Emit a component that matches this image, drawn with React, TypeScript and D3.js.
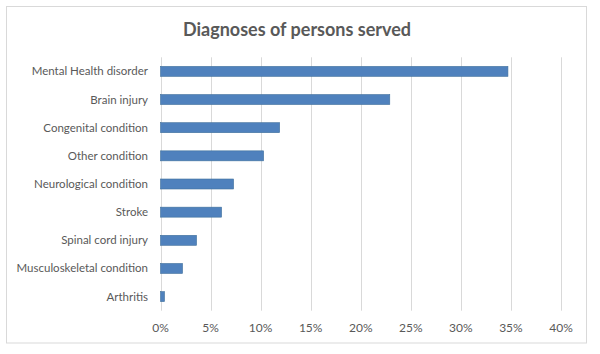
import React from "react";
import * as d3 from "d3";

const categories = [
  "Mental Health disorder",
  "Brain injury",
  "Congenital condition",
  "Other condition",
  "Neurological condition",
  "Stroke",
  "Spinal cord injury",
  "Musculoskeletal condition",
  "Arthritis",
];
const shares = [34.7, 22.9, 11.9, 10.3, 7.3, 6.1, 3.6, 2.2, 0.4];
const ticks = [0, 5, 10, 15, 20, 25, 30, 35, 40];

const W = 600;
const H = 354;
const left = 160.5;
const right = 561;
const top = 57.3;
const bottom = 310.7;
const font = "Lato, 'Open Sans', sans-serif";
const textColor = "#595959";

const App = () => {
  const x = d3.scaleLinear().domain([0, 40]).range([left, right]);
  const y = d3
    .scaleBand<string>()
    .domain(categories)
    .range([top, bottom])
    .paddingInner(0.645)
    .paddingOuter(0.3225);

  return (
    <svg
      width={W}
      height={H}
      style={{ position: "absolute", left: 0, top: 0, background: "#fff" }}
    >
      <rect x={6.5} y={6.5} width={580} height={336.5} fill="#fff" stroke="#d9d9d9" />
      <text
        x={297}
        y={36}
        textAnchor="middle"
        fontFamily={font}
        fontWeight="bold"
        fontSize={18}
        fill={textColor}
      >
        Diagnoses of persons served
      </text>

      {ticks.map((t) => (
        <g key={t}>
          <line
            x1={Math.round(x(t)) + 0.5}
            x2={Math.round(x(t)) + 0.5}
            y1={top}
            y2={bottom}
            stroke="#d9d9d9"
            strokeWidth={1}
          />
          <text
            x={x(t)}
            y={331.5}
            textAnchor="middle"
            fontFamily={font}
            fontSize={12}
            fill={textColor}
          >
            {t}%
          </text>
        </g>
      ))}

      {categories.map((c, i) => (
        <g key={c}>
          <rect
            x={x(0)}
            y={y(c)}
            width={x(shares[i]) - x(0)}
            height={y.bandwidth()}
            fill="#4f81bd"
            stroke="#41719c"
            strokeWidth={0.6}
          />
          <text
            x={148}
            y={(y(c) ?? 0) + y.bandwidth() / 2}
            dy="0.35em"
            textAnchor="end"
            fontFamily={font}
            fontSize={11.5}
            fill={textColor}
          >
            {c}
          </text>
        </g>
      ))}
    </svg>
  );
};

export default App;
